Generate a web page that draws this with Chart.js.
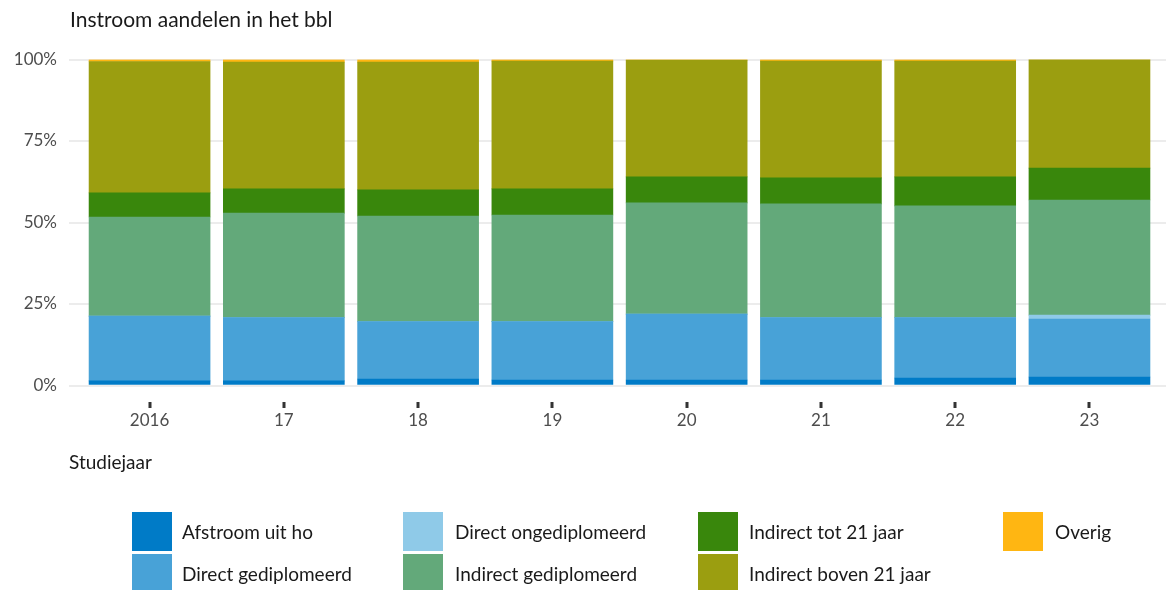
<!DOCTYPE html>
<html>
<head>
<meta charset="utf-8">
<script src="https://cdn.jsdelivr.net/npm/chart.js@4/dist/chart.umd.min.js"></script>
<style>
  html, body { margin: 0; padding: 0; background: #fff; overflow: hidden; }
  #wrap { position: relative; width: 1166px; height: 590px; font-family: Lato, "Open Sans", sans-serif; }
  #chart { position: absolute; left: 0; top: 0; }
  #title { position: absolute; left: 70px; top: 6px; font-size: 21px; color: #1a1a1a; white-space: nowrap; }
  .sw { position: absolute; width: 40px; height: 39px; }
  .lt { position: absolute; font-size: 19px; color: #1a1a1a; white-space: nowrap; line-height: 24px; }
</style>
</head>
<body>
<div id="wrap">
  <canvas id="chart" width="1166" height="590"></canvas>
  <div id="title">Instroom aandelen in het bbl</div>
  <div id="legend"></div>
</div>
<script>
const categories = ["2016", "17", "18", "19", "20", "21", "22", "23"];
const yTicks = [0, 25, 50, 75, 100];

const afstroomUitHo        = [1.4, 1.4, 2.0, 1.7, 1.7, 1.7, 2.3, 2.6];
const directGediplomeerd   = [19.9, 19.4, 17.6, 17.9, 20.2, 19.1, 18.5, 17.8];
const directOngediplomeerd = [0, 0, 0, 0, 0, 0, 0, 1.2];
const indirectGediplomeerd = [30.4, 32.1, 32.4, 32.7, 34.1, 34.9, 34.3, 35.3];
const indirectTot21        = [7.4, 7.4, 8.0, 8.0, 8.0, 8.0, 8.9, 9.8];
const indirectBoven21      = [40.3, 38.9, 39.2, 39.2, 35.8, 35.8, 35.5, 33.3];
const overig               = [0.6, 0.8, 0.8, 0.5, 0.2, 0.5, 0.5, 0];

const seriesNames = ["Afstroom uit ho", "Direct gediplomeerd", "Direct ongediplomeerd",
  "Indirect gediplomeerd", "Indirect tot 21 jaar", "Indirect boven 21 jaar", "Overig"];
const seriesValues = [afstroomUitHo, directGediplomeerd, directOngediplomeerd,
  indirectGediplomeerd, indirectTot21, indirectBoven21, overig];
const seriesColors = ["#007bc7", "#48a2d7", "#8fcae8", "#63a97a", "#39870c", "#9b9e10", "#ffb612"];

// legend layout: column-major, 2 rows
const legendCols = [[132, 182], [403, 455], [698, 749], [1003, 1055]];
const legendRows = [512, 554];

const legend = document.getElementById('legend');
seriesNames.forEach((name, i) => {
  const col = Math.floor(i / 2), row = i % 2;
  const sw = document.createElement('div');
  sw.className = 'sw';
  sw.style.left = legendCols[col][0] + 'px';
  sw.style.top = legendRows[row] + 'px';
  sw.style.background = seriesColors[i];
  legend.appendChild(sw);
  const t = document.createElement('div');
  t.className = 'lt';
  t.textContent = name;
  t.style.left = legendCols[col][1] + 'px';
  t.style.top = (legendRows[row] + 8) + 'px';
  legend.appendChild(t);
});

const datasets = seriesNames.map((name, i) => ({
  label: name,
  data: seriesValues[i].map((v, j) => ({ x: j, y: v })),
  backgroundColor: seriesColors[i],
  borderWidth: 0,
  barThickness: 121,
  stack: 'all'
}));

const fontFamily = 'Lato, "Open Sans", sans-serif';

// small detached tick marks below the x axis, placed with the x scale
const tickMarks = {
  id: 'tickMarks',
  afterDraw(chart) {
    const xs = chart.scales.x;
    const base = Math.round(chart.chartArea.bottom);
    const ctx = chart.ctx;
    ctx.save();
    ctx.fillStyle = '#333333';
    categories.forEach((_, i) => {
      const px = Math.round(xs.getPixelForValue(i));
      ctx.fillRect(px - 1.5, base + 16, 3, 6);
    });
    ctx.restore();
  }
};

new Chart(document.getElementById('chart'), {
  type: 'bar',
  data: { datasets },
  plugins: [tickMarks],
  options: {
    responsive: false,
    animation: false,
    layout: { padding: { top: 59.5, right: 0, bottom: 0, left: 0 } },
    plugins: { legend: { display: false }, title: { display: false }, tooltip: { enabled: false } },
    scales: {
      x: {
        type: 'linear',
        offset: false,
        min: -0.6,
        max: 7.57,
        afterFit: (s) => { s.height = 590 - 385.5; },
        afterBuildTicks: (s) => { s.ticks = categories.map((_, i) => ({ value: i })); },
        border: { display: false },
        grid: { offset: false, display: false, drawOnChartArea: false, drawTicks: false },
        ticks: {
          padding: 25,
          color: '#4d4d4d',
          font: { family: fontFamily, size: 17 },
          maxRotation: 0,
          autoSkip: false,
          callback: (v) => categories[v] ?? ''
        },
        title: {
          display: true,
          text: 'Studiejaar',
          align: 'start',
          color: '#1a1a1a',
          font: { family: fontFamily, size: 19 },
          padding: { top: 0, bottom: 115.6 }
        }
      },
      y: {
        stacked: true,
        min: 0,
        max: 100,
        afterFit: (s) => { s.width = 69; },
        afterBuildTicks: (s) => { s.ticks = yTicks.map(v => ({ value: v })); },
        border: { display: false },
        grid: { color: '#ececec', lineWidth: 2, drawTicks: false },
        ticks: {
          padding: 12,
          color: '#4d4d4d',
          font: { family: fontFamily, size: 17 },
          callback: (v) => v + '%'
        }
      }
    }
  }
});
</script>
</body>
</html>
